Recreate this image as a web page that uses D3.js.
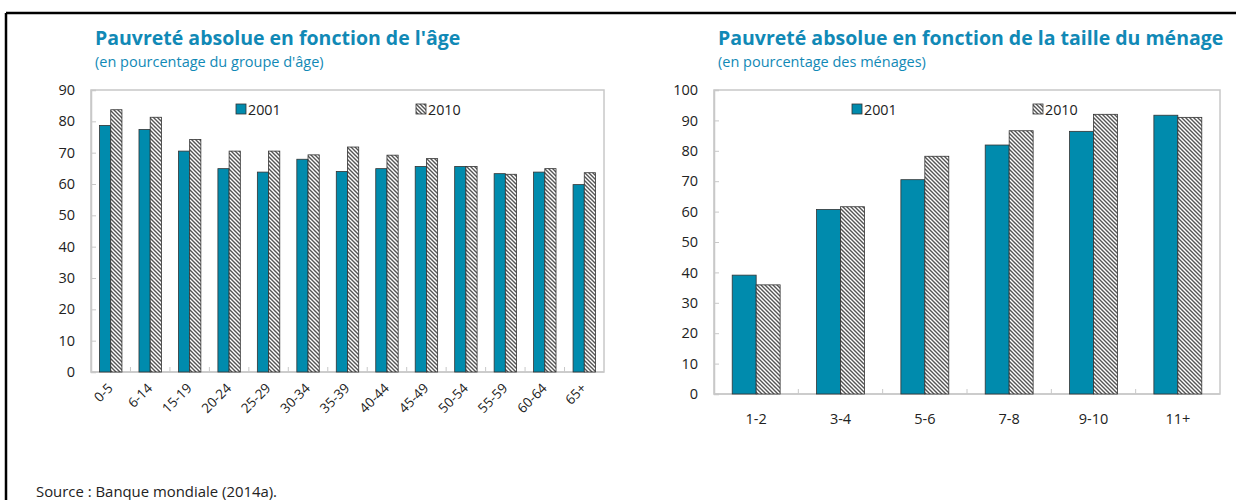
<!DOCTYPE html>
<html>
<head>
<meta charset="utf-8">
<script src="https://cdn.jsdelivr.net/npm/d3@7/dist/d3.min.js"></script>
<style>
  body { margin: 0; background: #fff; }
  svg text { font-family: "Open Sans", "Noto Sans", sans-serif; }
</style>
</head>
<body>
<svg id="chart" width="1236" height="500"></svg>
<script>
// left panel: poverty by age group
const ageGroups = ["0-5", "6-14", "15-19", "20-24", "25-29", "30-34", "35-39", "40-44", "45-49", "50-54", "55-59", "60-64", "65+"];
const age2001 = [78.7, 77.4, 70.5, 64.9, 63.8, 67.9, 64.0, 64.9, 65.6, 65.6, 63.3, 63.8, 59.8];
const age2010 = [83.7, 81.3, 74.2, 70.5, 70.5, 69.3, 71.8, 69.2, 68.1, 65.6, 63.1, 64.9, 63.6];

// right panel: poverty by household size
const hhSizes = ["1-2", "3-4", "5-6", "7-8", "9-10", "11+"];
const hh2001 = [39.1, 60.7, 70.5, 81.9, 86.4, 91.7];
const hh2010 = [35.9, 61.6, 78.2, 86.6, 92.0, 91.0];

const years = ["2001", "2010"];
const ageTicks = [0, 10, 20, 30, 40, 50, 60, 70, 80, 90];
const hhTicks = [0, 10, 20, 30, 40, 50, 60, 70, 80, 90, 100];

const blue = "#008bad";
const titleColor = "#1189b6";

const svg = d3.select("#chart");

// hatch for 2010
const defs = svg.append("defs");
const pat = defs.append("pattern")
    .attr("id", "hatch")
    .attr("patternUnits", "userSpaceOnUse")
    .attr("width", 4).attr("height", 4);
pat.append("rect").attr("width", 4).attr("height", 4).attr("fill", "#fff");
pat.append("path")
    .attr("d", "M-1,-1 L5,5 M-1,3 L1,5 M3,-1 L5,1")
    .attr("stroke", "#555").attr("stroke-width", 1.4);

// outer frame
svg.append("line").attr("x1", 6).attr("x2", 1236).attr("y1", 13).attr("y2", 13)
    .attr("stroke", "#000").attr("stroke-width", 2.5);
svg.append("line").attr("x1", 6).attr("x2", 6).attr("y1", 13).attr("y2", 500)
    .attr("stroke", "#000").attr("stroke-width", 2.5);

svg.append("text")
    .attr("x", 36).attr("y", 497)
    .attr("font-size", 14.9).attr("fill", "#222")
    .text("Source : Banque mondiale (2014a).");

function drawPanel(o) {
    const g = svg.append("g");

    g.append("text").attr("x", o.titleX).attr("y", 45)
        .attr("font-size", 19.5).attr("font-weight", "bold").attr("fill", titleColor)
        .text(o.title);
    g.append("text").attr("x", o.titleX).attr("y", 67)
        .attr("font-size", 14.5).attr("fill", titleColor)
        .text(o.subtitle);

    const x = d3.scaleBand().domain(o.cats).range([o.left, o.right]);
    const y = d3.scaleLinear().domain([0, o.max]).range([o.bottom, o.top]);
    const inner = d3.scaleBand().domain(years).range([0, x.bandwidth()])
        .paddingInner(0).paddingOuter(o.pad);

    // plot border
    g.append("rect")
        .attr("x", o.left).attr("y", o.top)
        .attr("width", o.right - o.left).attr("height", o.bottom - o.top)
        .attr("fill", "none").attr("stroke", "#c8c8c8").attr("stroke-width", 1.5);

    // y axis
    const yAxis = g.append("g")
        .attr("transform", `translate(${o.left},0)`)
        .call(d3.axisLeft(y).tickValues(o.ticks).tickSize(-5).tickPadding(16));
    yAxis.select(".domain").attr("stroke", "#c8c8c8").attr("stroke-width", 1.5);
    yAxis.selectAll(".tick line").attr("stroke", "#c8c8c8");
    yAxis.selectAll("text").attr("font-size", 14.5).attr("fill", "#222")
        .attr("font-family", "'Open Sans', sans-serif");

    // category separators on x axis
    g.selectAll(".sep").data(o.cats.slice(1)).enter().append("line")
        .attr("x1", d => x(d)).attr("x2", d => x(d))
        .attr("y1", o.bottom).attr("y2", o.bottom - 5)
        .attr("stroke", "#c8c8c8");
    g.append("line").attr("x1", o.left).attr("x2", o.right)
        .attr("y1", o.bottom).attr("y2", o.bottom)
        .attr("stroke", "#c8c8c8").attr("stroke-width", 1.5);

    const series = [o.s2001, o.s2010];
    years.forEach((yr, k) => {
        g.selectAll(".bar" + yr).data(o.cats).enter().append("rect")
            .attr("x", d => x(d) + inner(yr))
            .attr("y", (d, i) => y(series[k][i]))
            .attr("width", inner.bandwidth())
            .attr("height", (d, i) => o.bottom - y(series[k][i]))
            .attr("fill", k === 0 ? blue : "url(#hatch)")
            .attr("stroke", "#333").attr("stroke-width", 0.8);
    });

    // category labels
    const lab = g.selectAll(".cat").data(o.cats).enter().append("text")
        .attr("font-size", o.rotate ? 13.5 : 14.5).attr("fill", "#222");
    if (o.rotate) {
        lab.attr("text-anchor", "end")
            .attr("transform", d => `translate(${x(d) + x.bandwidth() / 2 + 3},${o.bottom + 17}) rotate(-45)`)
            .text(d => d);
    } else {
        lab.attr("text-anchor", "middle")
            .attr("x", d => x(d) + x.bandwidth() / 2)
            .attr("y", o.bottom + 30)
            .text(d => d);
    }

    // legend
    years.forEach((yr, k) => {
        const lx = o.legendX[k];
        g.append("rect").attr("x", lx).attr("y", 104).attr("width", 10).attr("height", 10)
            .attr("fill", k === 0 ? blue : "url(#hatch)")
            .attr("stroke", "#333").attr("stroke-width", 0.8);
        g.append("text").attr("x", lx + 12).attr("y", 115)
            .attr("font-size", 14.3).attr("fill", "#222").text(yr);
    });
}

drawPanel({
    title: "Pauvreté absolue en fonction de l'âge",
    subtitle: "(en pourcentage du groupe d'âge)",
    titleX: 95,
    cats: ageGroups, s2001: age2001, s2010: age2010,
    left: 91, right: 604, top: 90, bottom: 372, max: 90, ticks: ageTicks,
    pad: 0.76, rotate: true, legendX: [236, 416]
});

drawPanel({
    title: "Pauvreté absolue en fonction de la taille du ménage",
    subtitle: "(en pourcentage des ménages)",
    titleX: 718,
    cats: hhSizes, s2001: hh2001, s2010: hh2010,
    left: 714, right: 1220, top: 90, bottom: 394, max: 100, ticks: hhTicks,
    pad: 0.76, rotate: false, legendX: [852, 1033]
});
</script>
</body>
</html>
